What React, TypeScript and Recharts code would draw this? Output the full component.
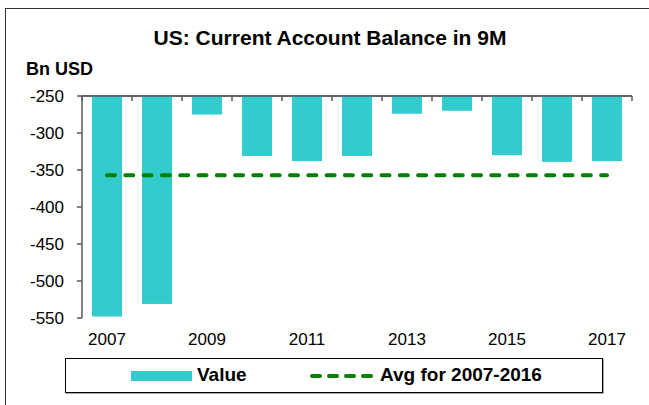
import { ComposedChart, Bar, Line, XAxis, YAxis, CartesianGrid } from "recharts";

// ─── data ──────────────────────────────────────────────────────────────────
const YEARS    = ["2007", "2008", "2009", "2010", "2011", "2012", "2013", "2014", "2015", "2016", "2017"];
const VALUES   = [-548, -531, -275, -331, -338, -331, -274, -270, -330, -339, -338];
const AVG_0716 = [-357, -357, -357, -357, -357, -357, -357, -357, -357, -357, -357];
const Y_TICKS  = [-550, -500, -450, -400, -350, -300, -250];
const Y_TOP    = -250;

const data = YEARS.map((year, i) => ({ year, value: VALUES[i], avg: AVG_0716[i] }));

const FONT       = "'Liberation Sans', Arial, sans-serif";
const AXIS_COLOR = "#595959";
const BAR_COLOR  = "#33CCCC";
const AVG_COLOR  = "#008000";
const TICK_STYLE = { fill: "#000", fontSize: 17, fontFamily: FONT };
const CAT_GAP    = 0.2; // barCategoryGap as a fraction of the band

// Bars hang from -250, where Excel crosses the category axis; each bar also draws
// the boundary tick of its band hanging below that axis line.
function BarWithTick(props: any) {
  const { x, y, width, height, index, fill } = props;
  const top  = Math.min(y, y + height);
  const h    = Math.abs(height);
  const band = width / (1 - 2 * CAT_GAP);
  const left = x - CAT_GAP * band;
  const tick = { stroke: AXIS_COLOR, strokeWidth: 1.5 };
  return (
    <g>
      <rect x={x} y={top} width={width} height={h} fill={fill} />
      <line x1={left} x2={left + band} y1={top} y2={top} {...tick} />
      <line x1={left} x2={left} y1={top} y2={top + 5} {...tick} />
      {index === YEARS.length - 1 && (
        <line x1={left + band} x2={left + band} y1={top} y2={top + 5} {...tick} />
      )}
    </g>
  );
}

function LegendBox() {
  return (
    <div style={{
      position: "absolute", left: 65, top: 358, width: 536, height: 33,
      border: "1px solid #000", boxShadow: "1px 1px 0 #aaa", background: "#fff",
      fontFamily: FONT, fontWeight: "bold", fontSize: 19, color: "#000",
    }}>
      <div style={{ position: "absolute", left: 65, top: 12, width: 61, height: 10, background: BAR_COLOR }} />
      <div style={{ position: "absolute", left: 131, top: 6, lineHeight: "20px" }}>Value</div>
      <svg style={{ position: "absolute", left: 243, top: 13 }} width={68} height={8}>
        <line x1={3} y1={4} x2={65} y2={4} stroke={AVG_COLOR} strokeWidth={4}
          strokeDasharray="8 9" strokeLinecap="round" />
      </svg>
      <div style={{ position: "absolute", left: 314, top: 6, lineHeight: "20px" }}>Avg for 2007-2016</div>
    </div>
  );
}

export default function App() {
  return (
    <div style={{ position: "absolute", left: 0, top: 0, width: 649, height: 405, background: "#fff", fontFamily: FONT }}>
      {/* frame */}
      <div style={{ position: "absolute", left: 5, top: 8, right: 0, bottom: 0, borderTop: "1px solid #333", borderLeft: "1px solid #333" }} />

      <div style={{ position: "absolute", left: 0, width: 660, top: 26, textAlign: "center", fontSize: 21, fontWeight: "bold", color: "#000" }}>
        US: Current Account Balance in 9M
      </div>
      <div style={{ position: "absolute", left: 26, top: 59, fontSize: 18, fontWeight: "bold", color: "#000" }}>
        Bn USD
      </div>

      <div style={{ position: "absolute", left: 0, top: 0 }}>
        <ComposedChart
          width={649} height={405} data={data}
          margin={{ top: 96, right: 17, bottom: 57, left: 0 }}
          barCategoryGap={`${CAT_GAP * 100}%`}
        >
          {/* the top axis line: one grid line at -250 spanning the plot */}
          <CartesianGrid
            xAxisId="cat" vertical={false} horizontalValues={[Y_TOP]}
            stroke={AXIS_COLOR} strokeWidth={1.5}
          />
          <XAxis
            xAxisId="cat" dataKey="year" interval={1}
            axisLine={false} tickLine={false} tickMargin={9} height={30}
            tick={TICK_STYLE}
          />
          <YAxis
            domain={[-550, -250]} ticks={Y_TICKS} width={82}
            tickSize={5} tickMargin={13} tick={TICK_STYLE}
            axisLine={{ stroke: AXIS_COLOR, strokeWidth: 1.5 }}
            tickLine={{ stroke: AXIS_COLOR, strokeWidth: 1.5 }}
          />
          <Bar xAxisId="cat" dataKey="value" name="Value" fill={BAR_COLOR}
            shape={<BarWithTick />} isAnimationActive={false} />
          <Line
            xAxisId="cat" dataKey="avg" name="Avg for 2007-2016" type="linear"
            stroke={AVG_COLOR} strokeWidth={4} strokeDasharray="8 10.3" strokeLinecap="round"
            dot={false} activeDot={false} isAnimationActive={false}
          />
        </ComposedChart>
      </div>

      <LegendBox />
    </div>
  );
}
